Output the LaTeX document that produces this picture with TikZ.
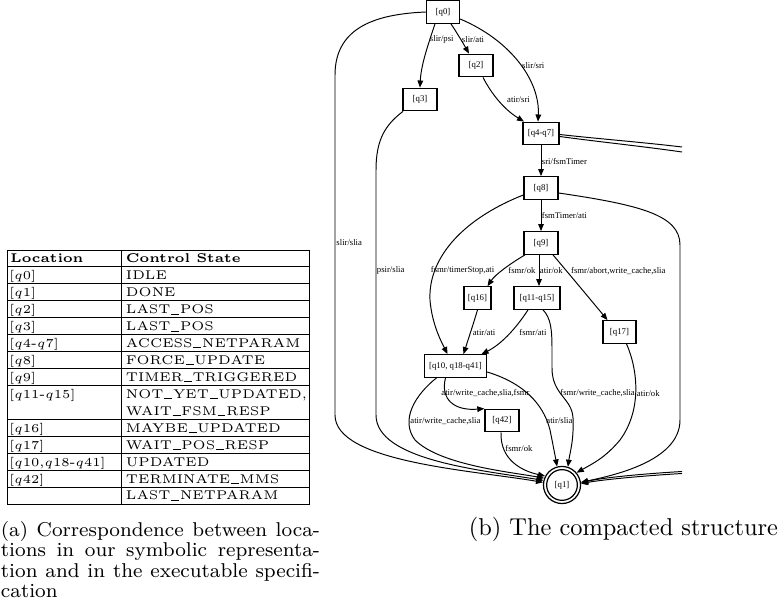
\documentclass[tikz,border=0pt]{standalone}
\usepackage{fontspec}
\newfontfamily\gvfont{Liberation Serif}
\usetikzlibrary{arrows.meta}
\newcommand\usc{\kern0.06em\rule[-0.05em]{0.62em}{0.3pt}\kern0.06em}
\begin{document}
\begin{tikzpicture}[x=0.41pt,y=-0.41pt,
  st/.style={draw,line width=0.55pt,rectangle,minimum height=9.2pt,inner sep=0pt,font=\gvfont\fontsize{3.6}{4}\selectfont},
  lbl/.style={font=\gvfont\fontsize{3.55}{4}\selectfont,inner sep=0pt,anchor=west},
  tr/.style={draw,line width=0.4pt,-{Triangle[length=2.9pt,width=2.3pt]}},
  ln/.style={draw,line width=0.4pt},
  tb/.style={anchor=base west,inner sep=0pt,font=\fontsize{5.2}{6}\selectfont},
  capa/.style={anchor=base west,inner sep=0pt,font=\fontsize{8.2}{10}\selectfont},
]
\useasboundingbox (0,0) rectangle (779,606);

% ---------------- table (a) ----------------
\draw[line width=0.4pt] (7,250) rectangle (309,504);
\draw[line width=0.4pt] (121,250) -- (121,504);
\foreach \k in {1,2,3,4,5,6,7,8,10,11,12,13,14}
  \draw[line width=0.4pt] (7,{250+\k*16.933}) -- (309,{250+\k*16.933});
\node[tb] (h1) at (10,262.9) {\bfseries Location};
\node[tb] (h2) at (125.5,262.9) {\bfseries Control State};
\node[tb] (a1) at (9,279.9) {$[q0]$};
\node[tb] (b1) at (125.5,279.9) {IDLE};
\node[tb] (a2) at (9,296.8) {$[q1]$};
\node[tb] (b2) at (125.5,296.8) {DONE};
\node[tb] (a3) at (9,313.7) {$[q2]$};
\node[tb] (b3) at (125.5,313.7) {LAST\usc POS};
\node[tb] (a4) at (9,330.7) {$[q3]$};
\node[tb] (b4) at (125.5,330.7) {LAST\usc POS};
\node[tb] (a5) at (9,347.6) {$[q4$-$q7]$};
\node[tb] (b5) at (125.5,347.6) {ACCESS\usc NETPARAM};
\node[tb] (a6) at (9,364.5) {$[q8]$};
\node[tb] (b6) at (125.5,364.5) {FORCE\usc UPDATE};
\node[tb] (a7) at (9,381.5) {$[q9]$};
\node[tb] (b7) at (125.5,381.5) {TIMER\usc TRIGGERED};
\node[tb] (a8) at (9,398.4) {$[q11$-$q15]$};
\node[tb] (b8) at (125.5,398.4) {NOT\usc YET\usc UPDATED,};
\node[tb] (b9) at (125.5,415.3) {WAIT\usc FSM\usc RESP};
\node[tb] (a10) at (9,432.3) {$[q16]$};
\node[tb] (b10) at (125.5,432.3) {MAYBE\usc UPDATED};
\node[tb] (a11) at (9,449.2) {$[q17]$};
\node[tb] (b11) at (125.5,449.2) {WAIT\usc POS\usc RESP};
\node[tb] (a12) at (9,466.1) {$[q10$,$q18$-$q41]$};
\node[tb] (b12) at (125.5,466.1) {UPDATED};
\node[tb] (a13) at (9,483.1) {$[q42]$};
\node[tb] (b13) at (125.5,483.1) {TERMINATE\usc MMS};
\node[tb] (b14) at (125.5,500) {LAST\usc NETPARAM};

\node[capa] (ca1) at (0.5,536.5) {\makebox[130.8pt][s]{(a) Correspondence between loca-}};
\node[capa] (ca2) at (0.5,557) {\makebox[130.8pt][s]{tions in our symbolic representa-}};
\node[capa] (ca3) at (0.5,577.5) {\makebox[130.8pt][s]{tion and in the executable specifi-}};
\node[capa] (ca4) at (0.5,598) {cation};

% ---------------- graph (b) ----------------
\node[st,minimum width=13.5pt] (q0) at (443,12) {[q0]};
\node[st,minimum width=13.9pt] (q2) at (476,65.5) {[q2]};
\node[st,minimum width=13.9pt] (q3) at (420,99.5) {[q3]};
\node[st,minimum width=14.8pt] (q47) at (541,133.5) {[q4-q7]};
\node[st,minimum width=13.9pt] (q8) at (541,188) {[q8]};
\node[st,minimum width=13.9pt] (q9) at (541,243) {[q9]};
\node[st,minimum width=11.1pt] (q16) at (477.5,298) {[q16]};
\node[st,minimum width=18.9pt] (q11) at (537,298) {[q11-q15]};
\node[st,minimum width=13.5pt] (q17) at (619.5,332) {[q17]};
\node[st,minimum width=25.4pt] (q10) at (455.5,366) {[q10, q18-q41]};
\node[st,minimum width=13.9pt] (q42) at (502,420.5) {[q42]};
\node[circle,draw,line width=0.5pt,minimum size=15.2pt,inner sep=0pt,font=\gvfont\fontsize{3.6}{4}\selectfont] (q1) at (562,485) {[q1]};
\draw[line width=0.5pt] (q1.center) circle[radius=6.3pt];

\coordinate (r1) at (682,147);
\coordinate (r2) at (682,152);
\coordinate (r3) at (682,471.5);
\coordinate (r4) at (682,473.5);

% edges
\draw[tr] (q0.west) .. controls (380,14) and (335,25) .. (335,75) -- (335,415) .. controls (335,462) and (470,470) .. (q1.172);
\draw[tr] ([shift={(-8,0)}]q0.south) .. controls (428,45) and (421,65) .. (q3.north);
\draw[tr] ([shift={(8,0)}]q0.south) .. controls (457,33) and (463,43) .. ([shift={(-7,0)}]q2.north);
\draw[tr] ([shift={(0,7)}]q0.east) .. controls (510,40) and (540,80) .. ([shift={(-3,0)}]q47.north);
\draw[tr] ([shift={(7,0)}]q2.south) .. controls (492,95) and (505,110) .. ([shift={(-17,0)}]q47.north);
\draw[tr] ([shift={(-17,0)}]q3.south) .. controls (385,125) and (376,140) .. (376,170) -- (376,415) .. controls (376,460) and (480,470) .. (q1.166);
\draw[ln] ([shift={(0,1)}]q47.east) .. controls (600,139) and (640,142) .. (r1);
\draw[ln] ([shift={(0,3)}]q47.east) .. controls (600,142) and (640,146) .. (r2);
\draw[tr] (q47) -- (q8);
\draw[tr] (q8) -- (q9);
\draw[tr] ([shift={(0,7)}]q8.west) .. controls (460,220) and (428,260) .. (430,300) .. controls (432,325) and (442,343) .. ([shift={(-8,0)}]q10.north);
\draw[tr] ([shift={(0,5)}]q8.east) .. controls (640,205) and (680,215) .. (680,245) -- (680,420) .. controls (680,462) and (610,476) .. (q1.8);
\draw[tr] ([shift={(-16,0)}]q9.south) .. controls (508,265) and (495,275) .. ([shift={(10,0)}]q16.north);
\draw[tr] ([shift={(-2,0)}]q9.south) -- ([shift={(2,0)}]q11.north);
\draw[tr] ([shift={(12,0)}]q9.south) .. controls (570,275) and (595,305) .. ([shift={(-12,0)}]q17.north);
\draw[tr] (q16.south) .. controls (474,322) and (468,340) .. ([shift={(8,0)}]q10.north);
\draw[tr] ([shift={(-9,0)}]q11.south) .. controls (515,330) and (500,345) .. ([shift={(26,0)}]q10.north);
\draw[tr] ([shift={(6,0)}]q11.south) .. controls (551,318) and (552,330) .. (552,350) -- (552,368) .. controls (552,395) and (572,398) .. (573,418) .. controls (574,440) and (570,452) .. (q1.72);
\draw[tr] ([shift={(7,0)}]q17.south) .. controls (638,370) and (642,410) .. (620,440) .. controls (605,458) and (592,464) .. (q1.40);
\draw[tr] ([shift={(-19,0)}]q10.south) .. controls (415,395) and (400,420) .. (415,440) .. controls (440,465) and (510,472) .. (q1.159);
\draw[tr] ([shift={(-10,0)}]q10.south) .. controls (440,400) and (455,411) .. (q42.north west);
\draw[tr] ([shift={(0,6)}]q10.east) .. controls (530,385) and (545,410) .. (550,430) .. controls (553,445) and (555,455) .. (q1.105);
\draw[tr] ([shift={(-1,0)}]q42.south) .. controls (500,460) and (522,471) .. (q1.152);
\draw[tr] (r3) .. controls (640,474) and (600,478) .. (q1.6);
\draw[tr] (r4) .. controls (640,476) and (600,480) .. (q1.4);

% edge labels
\node[lbl] (l1) at (429.5,39.3) {slir/psi};
\node[lbl] (l2) at (461.5,39.3) {slir/ati};
\node[lbl] (l3) at (521.7,66) {slir/sri};
\node[lbl] (l4) at (506.7,100) {atir/sri};
\node[lbl] (l5) at (541.5,161.7) {sri/fsmTimer};
\node[lbl] (l6) at (541.5,215.7) {fsmTimer/ati};
\node[lbl] (l7) at (336,243) {slir/slia};
\node[lbl] (l8) at (376.5,270.7) {psir/slia};
\node[lbl] (l9) at (430.5,270.7) {fsmr/timerStop,ati};
\node[lbl] (l10) at (508,270.7) {fsmr/ok};
\node[lbl] (l11) at (539.5,270.7) {atir/ok};
\node[lbl] (l12) at (570.7,270.7) {fsmr/abort,write\_cache,slia};
\node[lbl] (l13) at (472.3,332.3) {atir/ati};
\node[lbl] (l14) at (519,332.3) {fsmr/ati};
\node[lbl] (l15) at (441,393.3) {atir/write\_cache,slia,fsmr};
\node[lbl] (l16) at (560,393.3) {fsmr/write\_cache,slia};
\node[lbl] (l17) at (636.5,393.3) {atir/ok};
\node[lbl] (l18) at (410,421) {atir/write\_cache,slia};
\node[lbl] (l19) at (546,421) {atir/slia};
\node[lbl] (l20) at (505,448) {fsmr/ok};

\node[anchor=base west,inner sep=0pt,font=\fontsize{10}{12}\selectfont] (cb) at (468.3,536) {(b) The compacted structure};
\end{tikzpicture}
\end{document}
